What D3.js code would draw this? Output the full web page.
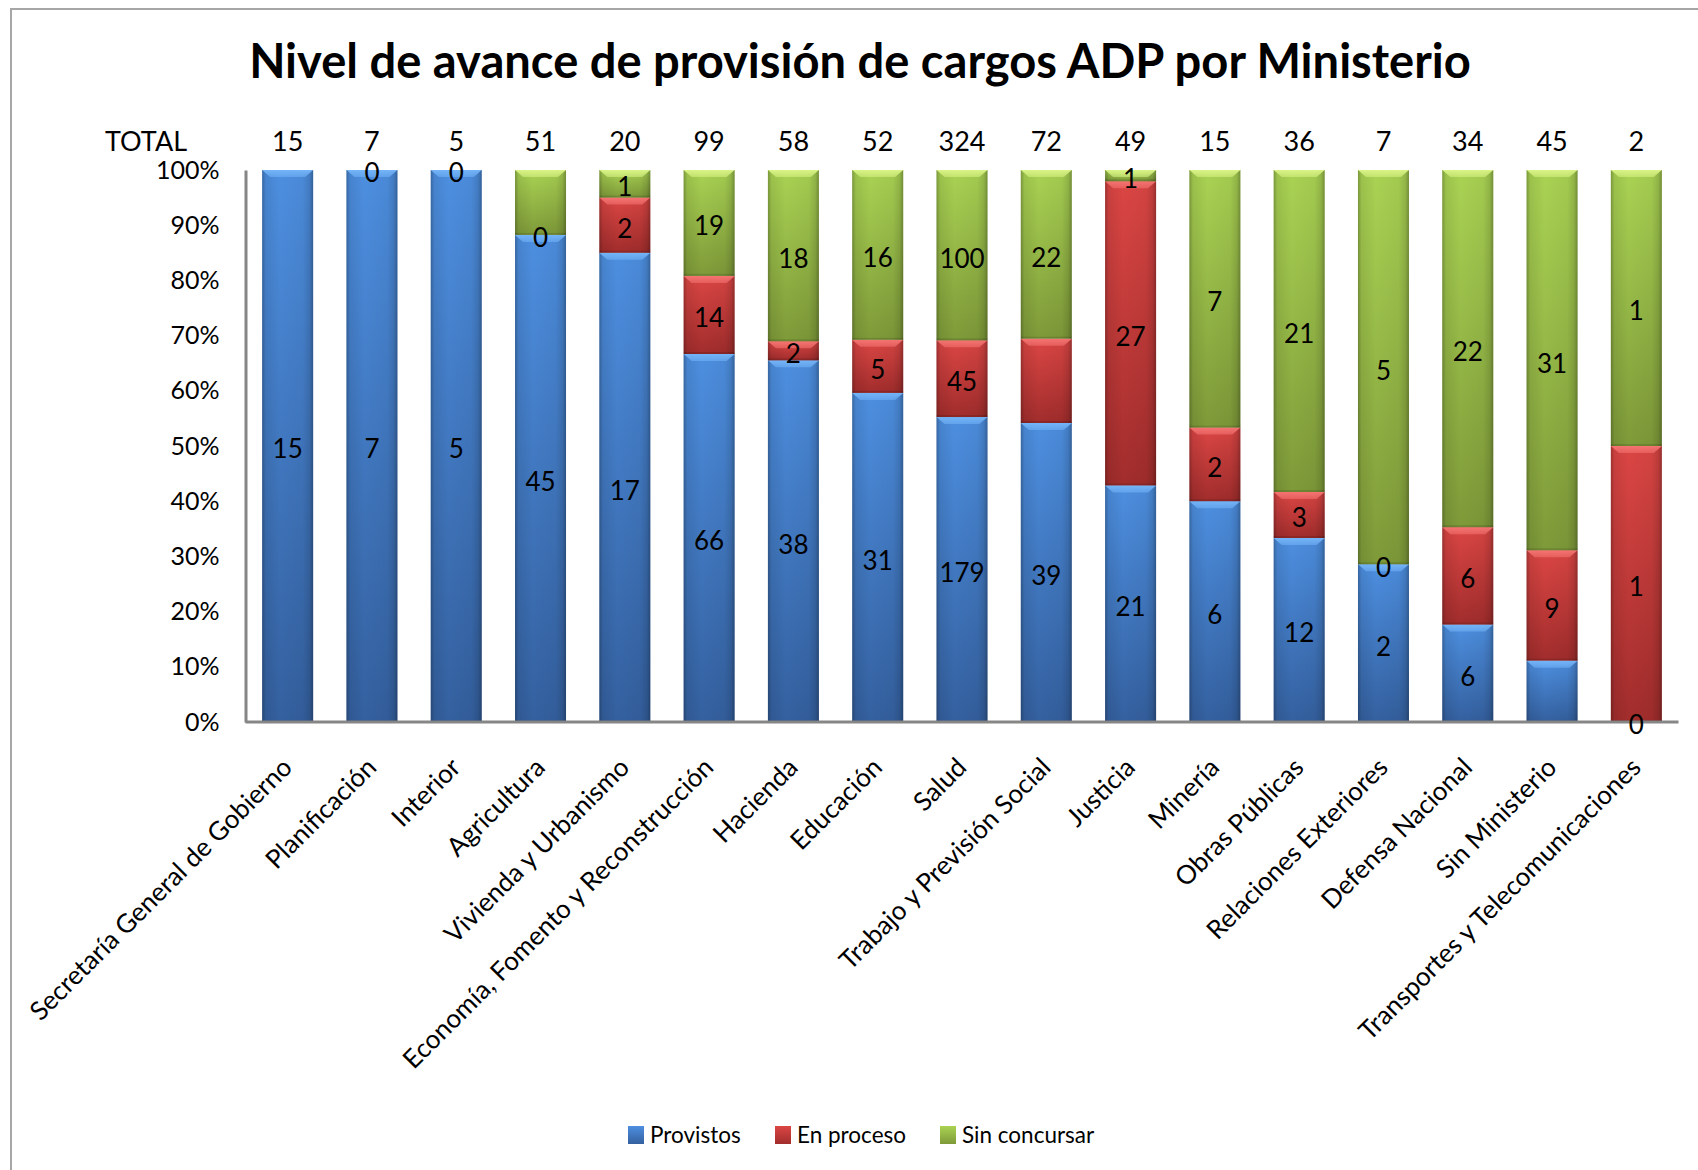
<!DOCTYPE html>
<html>
<head>
<meta charset="utf-8">
<script src="https://cdn.jsdelivr.net/npm/d3@7"></script>
<style>
  html, body { margin: 0; padding: 0; background: #fff; }
  svg { display: block; }
  text { font-family: Lato, "Open Sans", sans-serif; fill: #000; }
</style>
</head>
<body>
<svg id="chart" width="1698" height="1170"></svg>
<script>
const title = "Nivel de avance de provisión de cargos ADP por Ministerio";
const categories = ["Secretaría General de Gobierno", "Planificación", "Interior", "Agricultura",
  "Vivienda  y Urbanismo", "Economía, Fomento y Reconstrucción", "Hacienda", "Educación", "Salud",
  "Trabajo y Previsión Social", "Justicia", "Minería", "Obras Públicas", "Relaciones Exteriores",
  "Defensa Nacional", "Sin Ministerio", "Transportes y Telecomunicaciones"];
const seriesNames = ["Provistos", "En proceso", "Sin concursar"];
const provistos    = [15, 7, 5, 45, 17, 66, 38, 31, 179, 39, 21, 6, 12, 2, 6, 5, 0];
const enProceso    = [null, 0, 0, 0, 2, 14, 2, 5, 45, 11, 27, 2, 3, 0, 6, 9, 1];
const sinConcursar = [null, null, null, 6, 1, 19, 18, 16, 100, 22, 1, 7, 21, 5, 22, 31, 1];
const totals       = [15, 7, 5, 51, 20, 99, 58, 52, 324, 72, 49, 15, 36, 7, 34, 45, 2];
// data labels not shown in the original chart: [category index, series index]
const hiddenLabels = [[3, 2], [9, 1], [15, 0]];
const yTicks = [0, 0.1, 0.2, 0.3, 0.4, 0.5, 0.6, 0.7, 0.8, 0.9, 1.0];

const colors = [
  { top: "#4d8fe0", bottom: "#34609f", bevel: "#74b4f8" },
  { top: "#db4644", bottom: "#a12d2c", bevel: "#f47472" },
  { top: "#aad353", bottom: "#7e9a39", bevel: "#d9f486" }
];

const svg = d3.select("#chart");
const defs = svg.append("defs");

colors.forEach((c, i) => {
  const g = defs.append("linearGradient").attr("id", "v" + i).attr("x1", 0).attr("y1", 0).attr("x2", 0).attr("y2", 1);
  g.append("stop").attr("offset", "0%").attr("stop-color", c.top);
  g.append("stop").attr("offset", "100%").attr("stop-color", c.bottom);
  const b = defs.append("linearGradient").attr("id", "b" + i).attr("x1", 0).attr("y1", 0).attr("x2", 0).attr("y2", 1);
  b.append("stop").attr("offset", "0%").attr("stop-color", c.bevel);
  b.append("stop").attr("offset", "100%").attr("stop-color", c.bevel).attr("stop-opacity", 0.55);
});
const hg = defs.append("linearGradient").attr("id", "hshade").attr("x1", 0).attr("y1", 0).attr("x2", 1).attr("y2", 0);
[[0, 0.28], [0.07, 0.08], [0.35, 0], [0.8, 0.04], [0.93, 0.14], [1, 0.32]].forEach(([o, a]) =>
  hg.append("stop").attr("offset", o).attr("stop-color", "#000").attr("stop-opacity", a));

// outer chart border
svg.append("rect").attr("x", 11).attr("y", 9).attr("width", 1760).attr("height", 1250)
  .attr("fill", "none").attr("stroke", "#a6a6a6").attr("stroke-width", 2);

const x0 = 245.5, x1 = 1678.5, yBottom = 722, yTop = 170;
const x = d3.scaleBand().domain(categories).range([x0, x1]).paddingInner(0.395).paddingOuter(0.1975);
const y = d3.scaleLinear().domain([0, 1]).range([yBottom, yTop]);

const rows = categories.map((c, i) => ({
  cat: c, i,
  s0: provistos[i] || 0, s1: enProceso[i] || 0, s2: sinConcursar[i] || 0
}));
const raw = [provistos, enProceso, sinConcursar];
const stack = d3.stack().keys(["s0", "s1", "s2"]).offset(d3.stackOffsetExpand);
const layers = stack(rows);

// title
const t = svg.append("text").attr("x", 860).attr("y", 78).attr("text-anchor", "middle")
  .style("font-weight", "bold").style("font-size", "48px").text(title);
const tl = t.node().getComputedTextLength();
t.style("font-size", (48 * 1222 / tl).toFixed(2) + "px");

// bars
const bw = x.bandwidth();
layers.forEach((layer, si) => {
  const g = svg.append("g");
  layer.forEach((d, ci) => {
    const val = raw[si][ci];
    if (val === null || val === 0) return;
    const xp = x(categories[ci]);
    const yt = y(d[1]), yb = y(d[0]);
    const h = yb - yt;
    g.append("rect").attr("x", xp).attr("y", yt).attr("width", bw).attr("height", h).attr("fill", `url(#v${si})`);
    g.append("rect").attr("x", xp).attr("y", yt).attr("width", bw).attr("height", h).attr("fill", "url(#hshade)");
    const bh = Math.min(7, h);
    const inset = Math.min(8, bh * 1.15);
    g.append("path")
      .attr("d", `M${xp},${yt} L${xp + bw},${yt} L${xp + bw - inset},${yt + bh} L${xp + inset},${yt + bh} Z`)
      .attr("fill", `url(#b${si})`);
    g.append("rect").attr("x", xp).attr("y", yb - Math.min(2, h)).attr("width", bw).attr("height", Math.min(2, h))
      .attr("fill", "#000").attr("opacity", 0.12);
  });
});

// axes
const yAxis = d3.axisLeft(y).tickValues(yTicks).tickFormat(d3.format(".0%")).tickSize(0).tickPadding(26);
const ya = svg.append("g").attr("transform", `translate(${x0},0)`).call(yAxis);
ya.select(".domain").attr("stroke", "#868686").attr("stroke-width", 3);
ya.selectAll("text").style("font-size", "25px").attr("fill", "#000");

const xAxis = d3.axisBottom(x).tickSize(0);
const xa = svg.append("g").attr("transform", `translate(0,${yBottom})`).call(xAxis);
xa.select(".domain").attr("stroke", "#868686").attr("stroke-width", 3).attr("d", `M${x0},0H${x1}`);
xa.selectAll("text")
  .style("font-size", "26px").attr("fill", "#000")
  .attr("x", 0).attr("y", 0).attr("dy", 0)
  .attr("text-anchor", "end")
  .attr("transform", "translate(6,47) rotate(-45)");

// data labels
const hidden = new Set(hiddenLabels.map(d => d[0] + "-" + d[1]));
const lg = svg.append("g");
layers.forEach((layer, si) => {
  layer.forEach((d, ci) => {
    const val = raw[si][ci];
    if (val === null || hidden.has(ci + "-" + si)) return;
    lg.append("text")
      .attr("x", x(categories[ci]) + bw / 2)
      .attr("y", y((d[0] + d[1]) / 2))
      .attr("dy", "0.48em")
      .attr("text-anchor", "middle")
      .style("font-size", "26px")
      .text(val);
  });
});

// TOTAL row
svg.append("text").attr("x", 105).attr("y", 151).style("font-size", "27px").text("TOTAL");
svg.append("g").selectAll("text").data(totals).join("text")
  .attr("x", (d, i) => x(categories[i]) + bw / 2)
  .attr("y", 151).attr("text-anchor", "middle").style("font-size", "27px")
  .text(d => d);

// legend
const legendX = [628, 775, 940];
const leg = svg.append("g");
seriesNames.forEach((n, i) => {
  leg.append("rect").attr("x", legendX[i]).attr("y", 1126).attr("width", 16).attr("height", 18)
    .attr("fill", `url(#v${i})`);
  leg.append("text").attr("x", legendX[i] + 22).attr("y", 1135).attr("dy", "0.35em")
    .style("font-size", "22.5px").text(n);
});
</script>
</body>
</html>
